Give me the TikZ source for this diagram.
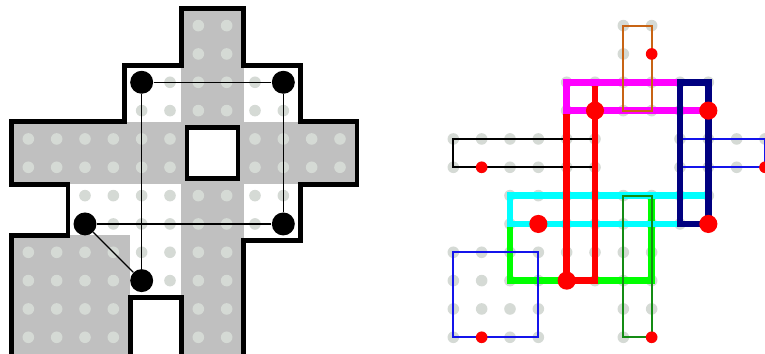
\documentclass[tikz,border=0pt]{standalone}
\usepackage{tikz}
\usetikzlibrary{positioning}

\definecolor{cellgray}{RGB}{192,192,192}
\definecolor{dotgray}{RGB}{213,218,213}
\definecolor{navyblue}{RGB}{0,0,128}
\definecolor{rustbrown}{RGB}{200,100,20}
\definecolor{leafgreen}{RGB}{20,140,20}
\definecolor{thinblue}{RGB}{20,20,235}
\definecolor{aqua}{RGB}{0,255,255}
\definecolor{fuchsia}{RGB}{255,0,255}
\definecolor{lime}{RGB}{0,255,0}
\definecolor{pure red}{RGB}{255,0,0}

% light dots on every cell of the region (the hole left out)
\newcommand{\celldots}{%
  \foreach \j/\a/\b in {0/6/7,1/6/7,2/4/9,3/4/9,4/0/5,4/8/11,5/0/5,5/8/11,
                         6/2/9,7/2/9,8/0/7,9/0/7,10/0/3,10/6/7,11/0/3,11/6/7}
    \foreach \i in {\a,...,\b}
      \fill[dotgray] (\i,-\j) circle (0.205);}

\begin{document}
\begin{tikzpicture}[
    x=5mm, y=5mm,
    outline/.style={draw=black, line width=2.5pt, line join=miter},
    vtx/.style={circle, fill=black, inner sep=0pt, minimum size=4.05mm},
    link/.style={line width=0.6pt},
    bar/.style={line width=3.4pt, line join=miter},
    frame/.style={line width=1pt},
    hit/.style={circle, fill=pure red, inner sep=0pt, minimum size=3.2mm},
    tip/.style={circle, fill=pure red, inner sep=0pt, minimum size=2.05mm}
]
\useasboundingbox (0,0) rectangle (27,-12.46);
\clip (0,0) rectangle (27,-12.46);

% left: the region with its guards
\begin{scope}[shift={(1,-0.904)}]
\fill[cellgray] (5.4,0.6) rectangle (7.6,-12.5);
\fill[cellgray] (-0.6,-3.4) rectangle (11.6,-5.6);
\fill[cellgray] (-0.6,-7.4) rectangle (3.6,-12.5);
\draw[outline] (5.4,0.6) -- (7.6,0.6) -- (7.6,-1.4) -- (9.6,-1.4) -- (9.6,-3.4)
  -- (11.6,-3.4) -- (11.6,-5.6) -- (9.6,-5.6) -- (9.6,-7.6) -- (7.6,-7.6)
  -- (7.6,-12.5) -- (5.4,-12.5) -- (5.4,-9.6) -- (3.6,-9.6) -- (3.6,-12.5)
  -- (-0.6,-12.5) -- (-0.6,-7.4) -- (1.4,-7.4) -- (1.4,-5.6) -- (-0.6,-5.6)
  -- (-0.6,-3.4) -- (3.4,-3.4) -- (3.4,-1.4) -- (5.4,-1.4) -- cycle;
\draw[outline, fill=white] (5.6,-3.6) rectangle (7.4,-5.4);
\celldots

\node[vtx] (ga) at (4,-2) {};
\node[vtx] (gb) at (9,-2) {};
\node[vtx] (gc) at (2,-7) {};
\node[vtx] (gd) at (9,-7) {};
\node[vtx] (ge) at (4,-9) {};

\draw[link] (ga) -- (gb);
\draw[link] (ga) -- (ge);
\draw[link] (gb) -- (gd);
\draw[link] (gc) -- (gd);
\draw[link] (gc) -- (ge);
\end{scope}

% right: the rectangles
\begin{scope}[shift={(16,-0.904)}]
\celldots
\draw[frame] (0,-4) rectangle (5,-5);
\draw[frame, thinblue] (8,-4) rectangle (11,-5);

\draw[bar, lime] (2,-6) rectangle (7,-9);
\draw[bar, aqua] (2,-6) rectangle (9,-7);
\draw[bar, pure red] (4,-2) -- (4,-9) -- (5,-9) -- (5,-2);
\draw[bar, fuchsia] (4,-2) rectangle (9,-3);
\draw[bar, navyblue] (8,-2) rectangle (9,-7);

\draw[frame, rustbrown] (6,0) rectangle (7,-3);
\draw[frame, leafgreen] (6,-6) rectangle (7,-11);
\draw[frame, thinblue] (0,-8) rectangle (3,-11);

\node[hit] (ha) at (5,-3) {};
\node[hit] (hb) at (9,-3) {};
\node[hit] (hc) at (3,-7) {};
\node[hit] (hd) at (9,-7) {};
\node[hit] (he) at (4,-9) {};

\node[tip] (ta) at (7,-1) {};
\node[tip] (tb) at (1,-5) {};
\node[tip] (tc) at (11,-5) {};
\node[tip] (td) at (1,-11) {};
\node[tip] (te) at (7,-11) {};
\end{scope}
\end{tikzpicture}
\end{document}
